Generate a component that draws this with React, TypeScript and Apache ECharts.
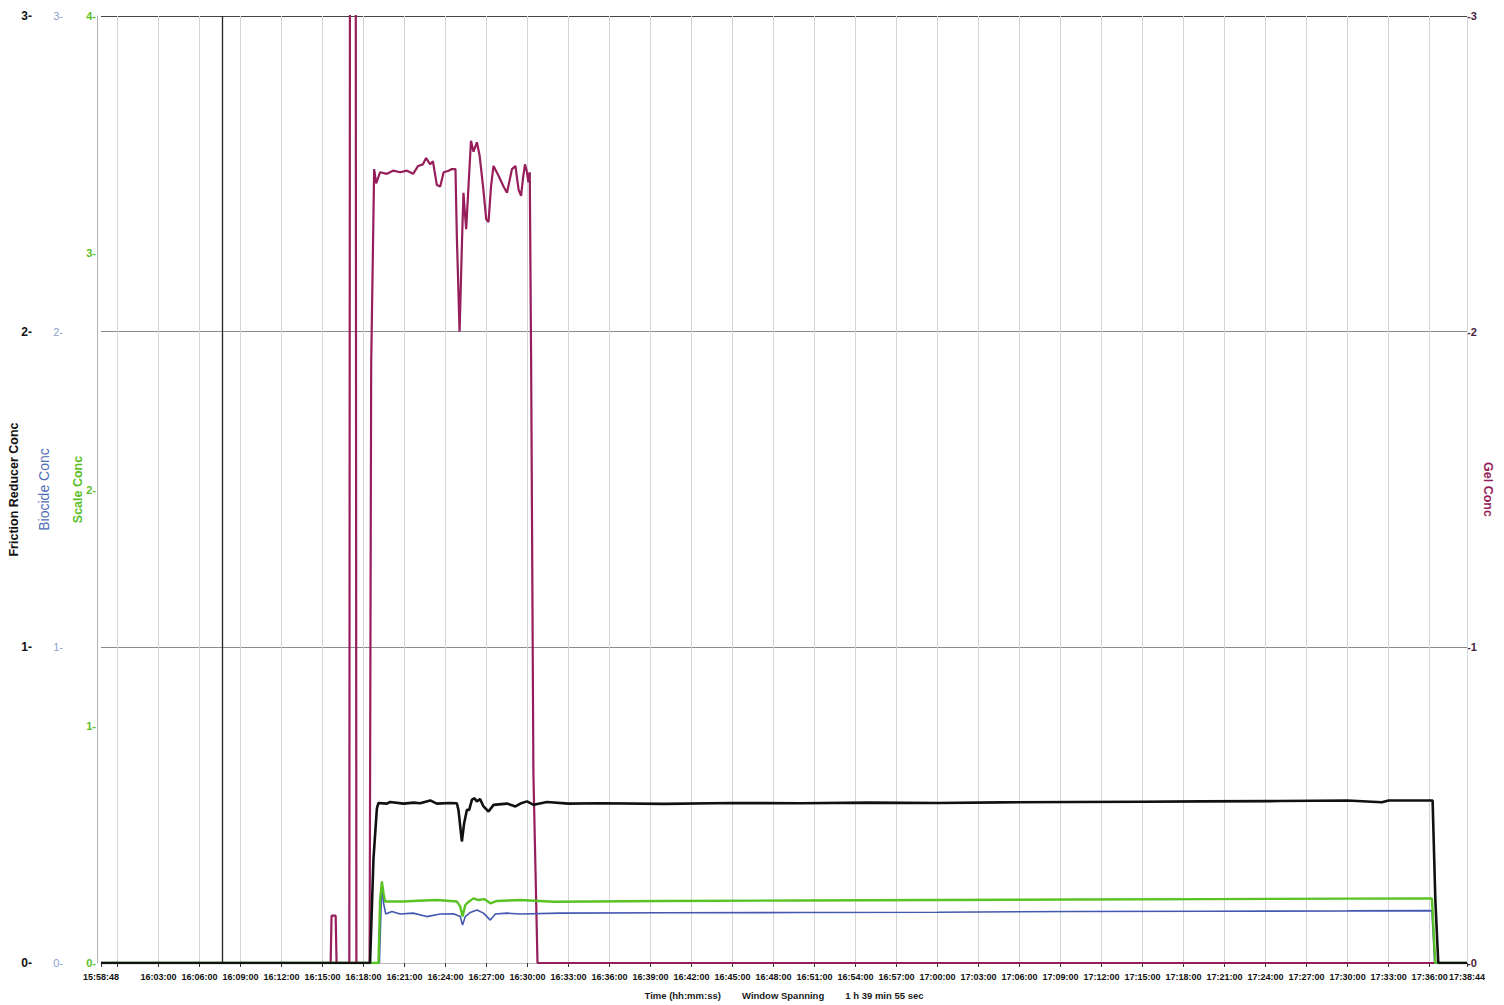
import React, { useEffect, useRef } from 'react';
import * as echarts from 'echarts';

// ---------- data ----------
const START_TIME = '15:58:48';
const END_TIME = '17:38:44';

const xTickLabels = [
  '15:58:48', '16:03:00', '16:06:00', '16:09:00', '16:12:00', '16:15:00', '16:18:00',
  '16:21:00', '16:24:00', '16:27:00', '16:30:00', '16:33:00', '16:36:00', '16:39:00',
  '16:42:00', '16:45:00', '16:48:00', '16:51:00', '16:54:00', '16:57:00', '17:00:00',
  '17:03:00', '17:06:00', '17:09:00', '17:12:00', '17:15:00', '17:18:00', '17:21:00',
  '17:24:00', '17:27:00', '17:30:00', '17:33:00', '17:36:00', '17:38:44',
];
const xUnlabeledTicks = ['16:00:00'];
const markerTimes = ['16:07:39'];

const frConc: [string, number][] = [
  ['15:58:48', 0], ['16:18:29', 0], ['16:18:44', 0.33], ['16:18:59', 0.49], ['16:19:06', 0.507],
  ['16:19:43', 0.505], ['16:19:57', 0.51], ['16:20:56', 0.505], ['16:21:40', 0.508], ['16:22:09', 0.506],
  ['16:22:53', 0.515], ['16:23:22', 0.505], ['16:24:20', 0.507], ['16:24:50', 0.506], ['16:24:57', 0.485],
  ['16:25:12', 0.385], ['16:25:22', 0.443], ['16:25:34', 0.485], ['16:25:44', 0.485], ['16:25:56', 0.517],
  ['16:26:06', 0.522], ['16:26:18', 0.512], ['16:26:32', 0.519], ['16:26:47', 0.496], ['16:27:09', 0.48],
  ['16:27:31', 0.501], ['16:28:30', 0.505], ['16:29:07', 0.496], ['16:29:29', 0.505], ['16:29:58', 0.512],
  ['16:30:27', 0.501], ['16:31:26', 0.51], ['16:33:00', 0.505], ['16:35:20', 0.506], ['16:40:00', 0.504],
  ['16:45:00', 0.507], ['16:49:58', 0.506], ['16:55:00', 0.508], ['17:00:00', 0.507], ['17:04:37', 0.509],
  ['17:10:00', 0.51], ['17:15:00', 0.511], ['17:19:15', 0.512], ['17:25:00', 0.513], ['17:30:00', 0.515],
  ['17:32:30', 0.509], ['17:33:00', 0.515], ['17:36:13', 0.515], ['17:36:25', 0.2], ['17:36:38', 0],
  ['17:38:44', 0],
];

const biocideConc: [string, number][] = [
  ['15:58:48', 0], ['16:19:10', 0], ['16:19:21', 0.258], ['16:19:28', 0.19], ['16:19:38', 0.155],
  ['16:20:05', 0.163], ['16:20:41', 0.155], ['16:21:38', 0.158], ['16:22:38', 0.147], ['16:23:37', 0.155],
  ['16:24:35', 0.156], ['16:25:05', 0.147], ['16:25:15', 0.12], ['16:25:27', 0.147], ['16:25:49', 0.16],
  ['16:26:18', 0.168], ['16:26:47', 0.158], ['16:27:17', 0.136], ['16:27:39', 0.155], ['16:28:30', 0.158],
  ['16:29:28', 0.155], ['16:32:24', 0.158], ['16:40:00', 0.159], ['16:50:00', 0.16], ['17:00:00', 0.161],
  ['17:10:00', 0.163], ['17:20:00', 0.164], ['17:30:00', 0.165], ['17:36:10', 0.166], ['17:36:22', 0],
  ['17:38:44', 0],
];

const scaleConc: [string, number][] = [
  ['15:58:48', 0], ['16:19:06', 0], ['16:19:13', 0.266], ['16:19:21', 0.344], ['16:19:28', 0.295],
  ['16:19:35', 0.26], ['16:20:56', 0.26], ['16:22:00', 0.263], ['16:23:22', 0.266], ['16:24:50', 0.26],
  ['16:25:05', 0.238], ['16:25:15', 0.196], ['16:25:27', 0.245], ['16:25:41', 0.258], ['16:26:03', 0.273],
  ['16:26:25', 0.266], ['16:26:50', 0.27], ['16:27:17', 0.252], ['16:27:46', 0.262], ['16:29:29', 0.266],
  ['16:31:56', 0.259], ['16:40:00', 0.262], ['16:50:00', 0.264], ['17:00:00', 0.266], ['17:10:00', 0.268],
  ['17:20:00', 0.27], ['17:30:00', 0.272], ['17:36:10', 0.273], ['17:36:25', 0], ['17:38:44', 0],
];

const gelConc: [string, number][] = [
  ['15:58:48', 0], ['16:15:36', 0], ['16:15:40', 0.15], ['16:15:58', 0.15], ['16:16:02', 0],
  ['16:16:58', 0], ['16:17:05', 8], ['16:17:22', 8], ['16:17:29', 0], ['16:18:27', 0],
  ['16:18:34', 1.9], ['16:18:47', 2.515], ['16:18:56', 2.47], ['16:19:13', 2.505], ['16:19:43', 2.5],
  ['16:20:10', 2.51], ['16:20:41', 2.505], ['16:21:11', 2.51], ['16:21:38', 2.5], ['16:22:00', 2.525],
  ['16:22:21', 2.53], ['16:22:35', 2.55], ['16:22:53', 2.53], ['16:23:05', 2.54], ['16:23:22', 2.465],
  ['16:23:37', 2.46], ['16:23:52', 2.505], ['16:24:14', 2.51], ['16:24:28', 2.515], ['16:24:44', 2.515],
  ['16:24:50', 2.3], ['16:25:02', 2.0], ['16:25:12', 2.27], ['16:25:19', 2.44], ['16:25:27', 2.36],
  ['16:25:31', 2.325], ['16:25:41', 2.46], ['16:25:52', 2.605], ['16:26:03', 2.57], ['16:26:18', 2.6],
  ['16:26:30', 2.557], ['16:26:45', 2.46], ['16:26:59', 2.356], ['16:27:09', 2.347], ['16:27:20', 2.46],
  ['16:27:31', 2.525], ['16:27:53', 2.494], ['16:28:15', 2.46], ['16:28:30', 2.44], ['16:28:52', 2.515],
  ['16:29:07', 2.525], ['16:29:21', 2.45], ['16:29:32', 2.43], ['16:29:41', 2.49], ['16:29:49', 2.53],
  ['16:29:58', 2.505], ['16:30:04', 2.473], ['16:30:10', 2.505], ['16:30:16', 1.91], ['16:30:26', 0.6],
  ['16:30:44', 0], ['17:38:44', 0],
];

const frAxisTicks = [0, 1, 2, 3];
const scaleAxisTicks = [0, 1, 2, 3, 4];

// ---------- helpers ----------
const clockToSec = (c: string) => {
  const [h, m, s] = c.split(':').map(Number);
  return h * 3600 + m * 60 + s;
};
const START_S = clockToSec(START_TIME);
const rel = (c: string) => clockToSec(c) - START_S;
const pad = (n: number) => String(n).padStart(2, '0');
const secToClock = (v: number) => {
  const t = Math.round(v) + START_S;
  return `${pad(Math.floor(t / 3600))}:${pad(Math.floor((t % 3600) / 60))}:${pad(t % 60)}`;
};
const toSeries = (arr: [string, number][]) => arr.map(([t, v]) => [rel(t), v]);

const FONT = 'Liberation Sans, Arial, sans-serif';

export default function App() {
  const ref = useRef<HTMLDivElement>(null);
  useEffect(() => {
    if (!ref.current) return;
    const chart = echarts.init(ref.current, undefined, { renderer: 'svg' });
    const labelVals = xTickLabels.map(rel);
    const tickVals = [...xTickLabels, ...xUnlabeledTicks].map(rel).sort((a, b) => a - b);
    const gridLineVals = tickVals.filter((v) => v > 0);
    chart.setOption({
      animation: false,
      backgroundColor: '#ffffff',
      textStyle: { fontFamily: FONT },
      grid: { left: 101, right: 37, top: 16, bottom: 42, containLabel: false, outerBoundsMode: 'none' },
      xAxis: {
        type: 'value',
        min: 0,
        max: rel(END_TIME),
        axisLine: { show: true, lineStyle: { color: '#bbbbbb' } },
        axisTick: { show: true, customValues: tickVals, length: 4, lineStyle: { color: '#333' } },
        axisLabel: {
          customValues: labelVals,
          formatter: (v: number) => secToClock(v),
          fontSize: 9,
          fontWeight: 'bold',
          color: '#111',
          margin: 9,
          hideOverlap: false,
          showMinLabel: true,
          showMaxLabel: true,
        },
        splitLine: { show: false },
        name: 'Time (hh:mm:ss)        Window Spanning        1 h 39 min 55 sec',
        nameLocation: 'middle',
        nameGap: 27,
        nameMoveOverlap: false,
        nameTextStyle: { fontSize: 9.5, fontWeight: 'bold', color: '#1a1a1a' },
      },
      yAxis: [
        {
          type: 'value', min: frAxisTicks[0], max: frAxisTicks[frAxisTicks.length - 1], interval: 1,
          position: 'left', offset: 68,
          name: 'Friction Reducer Conc', nameLocation: 'middle', nameGap: 13, nameMoveOverlap: false,
          nameTextStyle: { color: '#111', fontWeight: 'bold', fontSize: 12.5 },
          axisLine: { show: false }, axisTick: { show: false },
          axisLabel: { formatter: '{value}-', color: '#111', fontWeight: 'bold', fontSize: 12, margin: 1 },
          splitLine: { show: true, lineStyle: { color: ['#888888', '#8c8c8c', '#8c8c8c', '#444444'], width: 1 } },
        },
        {
          type: 'value', min: 0, max: 3, interval: 1,
          position: 'left', offset: 37,
          name: 'Biocide Conc', nameLocation: 'middle', nameGap: 13, nameMoveOverlap: false,
          nameTextStyle: { color: '#4f6db5', fontSize: 14 },
          axisLine: { show: false }, axisTick: { show: false },
          axisLabel: { formatter: '{value}-', color: '#8aa0cc', fontSize: 11, margin: 1 },
          splitLine: { show: false },
        },
        {
          type: 'value', min: scaleAxisTicks[0], max: scaleAxisTicks[scaleAxisTicks.length - 1], interval: 1,
          position: 'left', offset: 4,
          name: 'Scale Conc', nameLocation: 'middle', nameGap: 13, nameMoveOverlap: false,
          nameTextStyle: { color: '#5cbf2a', fontWeight: 'bold', fontSize: 12.5 },
          axisLine: { show: true, lineStyle: { color: '#b0b0b0', width: 1 } }, axisTick: { show: false },
          axisLabel: { formatter: '{value}-', color: '#5cbf2a', fontWeight: 'bold', fontSize: 11, margin: 1 },
          splitLine: { show: false },
        },
        {
          type: 'value', min: 0, max: 3, interval: 1,
          position: 'right', offset: 0,
          name: 'Gel Conc', nameLocation: 'middle', nameGap: 14, nameRotate: -90, nameMoveOverlap: false,
          nameTextStyle: { color: '#961e5a', fontWeight: 'bold', fontSize: 12.5 },
          axisLine: { show: false }, axisTick: { show: false },
          axisLabel: { formatter: '-{value}', color: '#4a2038', fontWeight: 'bold', fontSize: 11, margin: 0 },
          splitLine: { show: false },
        },
      ],
      series: [
        {
          name: 'Gel Conc', type: 'line', yAxisIndex: 3, data: toSeries(gelConc),
          symbol: 'none', lineStyle: { color: '#961e5a', width: 2.2 }, itemStyle: { color: '#961e5a' },
          markLine: {
            silent: true, symbol: 'none', label: { show: false }, z: 1,
            lineStyle: { color: '#d2d6da', width: 1, type: 'solid' },
            data: gridLineVals.map((v) => ({ xAxis: v })),
          },
        },
        {
          name: 'Biocide Conc', type: 'line', yAxisIndex: 1, data: toSeries(biocideConc),
          symbol: 'none', lineStyle: { color: '#4358b0', width: 1.6 }, itemStyle: { color: '#4358b0' },
        },
        {
          name: 'Scale Conc', type: 'line', yAxisIndex: 2, data: toSeries(scaleConc),
          symbol: 'none', lineStyle: { color: '#58c322', width: 2.4 }, itemStyle: { color: '#58c322' },
        },
        {
          name: 'Friction Reducer Conc', type: 'line', yAxisIndex: 0, data: toSeries(frConc),
          symbol: 'none', lineStyle: { color: '#111111', width: 2.6 }, itemStyle: { color: '#111111' },
          markLine: {
            silent: true, symbol: 'none', label: { show: false },
            lineStyle: { color: '#222', width: 1.3, type: 'solid' },
            data: markerTimes.map((t) => ({ xAxis: rel(t) })),
          },
        },
      ],
    });
    return () => chart.dispose();
  }, []);
  return (
    <div
      ref={ref}
      style={{ position: 'fixed', left: 0, top: 0, width: 1504, height: 1005, background: '#fff' }}
    />
  );
}
